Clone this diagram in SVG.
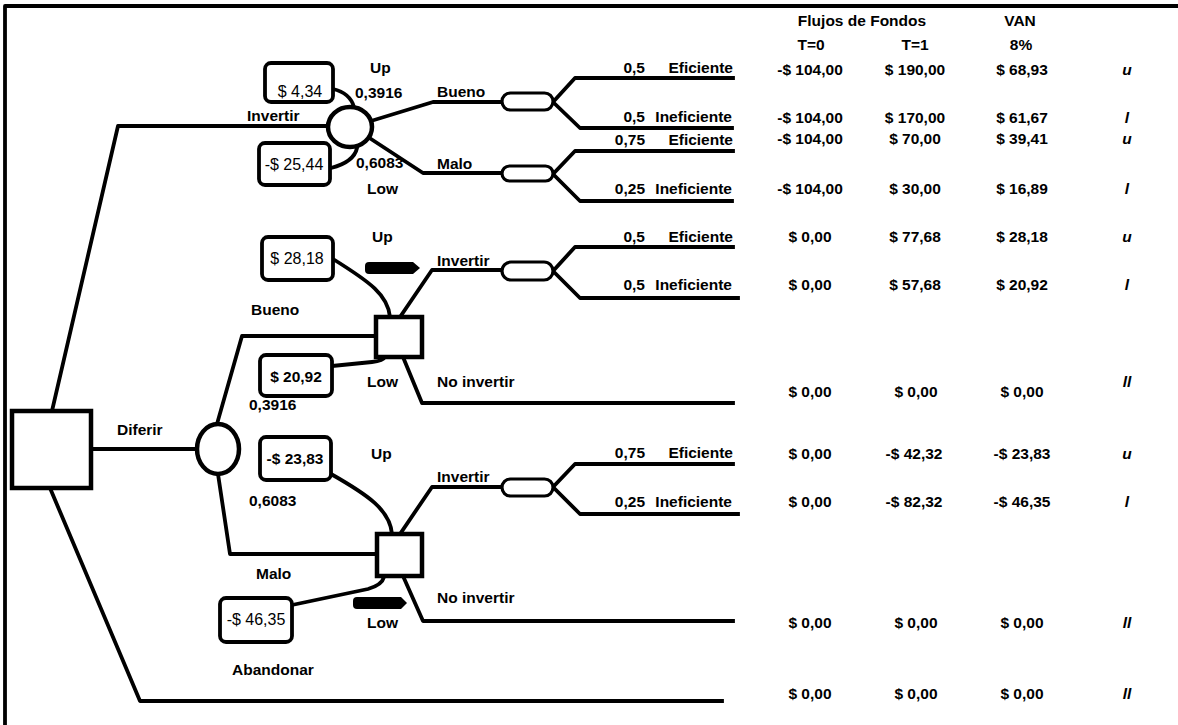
<svg xmlns="http://www.w3.org/2000/svg" width="1178" height="725" viewBox="0 0 1178 725">
<style>
.ln{fill:none;stroke:#000;stroke-width:3.8;stroke-linejoin:round;stroke-linecap:square}
.nd{fill:#fff;stroke:#000;stroke-width:4.5}
.bx{fill:#fff;stroke:#000;stroke-width:3.8}
.pl{fill:#fff;stroke:#000;stroke-width:3.2}
.ar{fill:#000;stroke:none}
text{font-family:"Liberation Sans",Arial,sans-serif;font-size:15.5px;fill:#000}
.b{font-weight:bold}
.n{font-weight:normal;font-size:16px}
.m{text-anchor:middle}
.e{text-anchor:end}
.i{font-style:italic;font-weight:bold;text-anchor:middle}
</style>
<rect width="1178" height="725" fill="#fff"/>
<g id="frame">
<path class="ln" d="M5 725 V6 H1178" stroke-linecap="butt"/>
</g>
<g id="connectors">
<path class="ln" d="M52 411 L118 126 H329"/>
<path class="ln" d="M91 449 H197"/>
<path class="ln" d="M50 488 L140 701 H722"/>
<path class="ln" d="M371 121 L433 102 H502"/>
<path class="ln" d="M368 137 L423 173 H502"/>
<path class="ln" d="M553 102 L575 78 H733"/>
<path class="ln" d="M553 102 L580 128 H732"/>
<path class="ln" d="M553 174 L575 151 H733"/>
<path class="ln" d="M553 174 L580 201 H732"/>
<path class="ln" d="M217 424 L242 336 H375"/>
<path class="ln" d="M218 474 L230 554 H377"/>
<path class="ln" d="M400 317 L432 270 H502"/>
<path class="ln" d="M553 271 L575 247 H733"/>
<path class="ln" d="M553 271 L580 298 H738"/>
<path class="ln" d="M403 357 L422 403 H733"/>
<path class="ln" d="M400 534 L432 487 H502"/>
<path class="ln" d="M553 487 L575 464 H733"/>
<path class="ln" d="M553 487 L580 514 H738"/>
<path class="ln" d="M403 576 L423 621 H733"/>
<path class="ln" d="M333 89 Q350 93 354 107" stroke-linecap="butt"/>
<path class="ln" d="M331 168 Q354 162 357 148" stroke-linecap="butt"/>
<path class="ln" d="M333 259 C 370 282, 388 295, 390 317" stroke-linecap="butt"/>
<path class="ln" d="M332 366 L372 362 Q383 361 385 357" stroke-linecap="butt"/>
<path class="ln" d="M331 474 C 368 495, 390 510, 392 534" stroke-linecap="butt"/>
<path class="ln" d="M292 605 L368 589 Q382 585 384 577" stroke-linecap="butt"/>
<path class="ar" d="M369 262 H413 L420 268 L413 274 H369 Q365 274 365 270 V266 Q365 262 369 262 Z"/>
<path class="ar" d="M357 597 H401 L407 603 L401 609 H357 Q353 609 353 605 V601 Q353 597 357 597 Z"/>
</g>
<g id="decision-root"><rect class="nd" x="12" y="411" width="79" height="77"/></g>
<g id="chance-invertir"><ellipse class="nd" cx="350" cy="127" rx="22" ry="20"/></g>
<g id="chance-diferir"><ellipse class="nd" cx="218" cy="449" rx="21" ry="25"/></g>
<g id="decision-bueno"><rect class="nd" x="376" y="317" width="46" height="40"/></g>
<g id="decision-malo"><rect class="nd" x="377" y="534" width="45" height="42"/></g>
<g id="pill-1"><rect class="pl" x="502" y="93" width="51" height="17" rx="8.5"/></g>
<g id="pill-2"><rect class="pl" x="502" y="166" width="51" height="15" rx="7.5"/></g>
<g id="pill-3"><rect class="pl" x="502" y="262" width="51" height="18" rx="9"/></g>
<g id="pill-4"><rect class="pl" x="502" y="479" width="51" height="17" rx="8.5"/></g>
<g id="val-434"><rect class="bx" x="265" y="63" width="68" height="39" rx="6"/><text class="n m" x="300" y="97">$ 4,34</text></g>
<g id="val-2544"><rect class="bx" x="259" y="143" width="71" height="42" rx="6"/><text class="n m" x="294" y="170">-$ 25,44</text></g>
<g id="val-2818"><rect class="bx" x="262" y="237" width="71" height="43" rx="6"/><text class="n m" x="297" y="264">$ 28,18</text></g>
<g id="val-2092"><rect class="bx" x="260" y="355" width="72" height="41" rx="6"/><text class="b m" x="296" y="382">$ 20,92</text></g>
<g id="val-2383"><rect class="bx" x="260" y="437" width="71" height="43" rx="6"/><text class="b m" x="295" y="464">-$ 23,83</text></g>
<g id="val-4635"><rect class="bx" x="220" y="598" width="72" height="44" rx="6"/><text class="n m" x="256" y="625">-$ 46,35</text></g>
<g id="labels">
<text class="b" x="247" y="121">Invertir</text>
<text class="b" x="370" y="73">Up</text>
<text class="b" x="355" y="98">0,3916</text>
<text class="b" x="356" y="168">0,6083</text>
<text class="b" x="367" y="194">Low</text>
<text class="b" x="437" y="97">Bueno</text>
<text class="b" x="437" y="169">Malo</text>
<text class="b e" x="645" y="73">0,5</text><text class="b e" x="733" y="73">Eficiente</text>
<text class="b e" x="645" y="122">0,5</text><text class="b e" x="732" y="122">Ineficiente</text>
<text class="b e" x="645" y="145">0,75</text><text class="b e" x="733" y="145">Eficiente</text>
<text class="b e" x="645" y="194">0,25</text><text class="b e" x="732" y="194">Ineficiente</text>
<text class="b" x="372" y="242">Up</text>
<text class="b" x="251" y="315">Bueno</text>
<text class="b" x="437" y="266">Invertir</text>
<text class="b e" x="645" y="242">0,5</text><text class="b e" x="733" y="242">Eficiente</text>
<text class="b e" x="645" y="290">0,5</text><text class="b e" x="732" y="290">Ineficiente</text>
<text class="b" x="367" y="387">Low</text>
<text class="b" x="437" y="387">No invertir</text>
<text class="b" x="249" y="410">0,3916</text>
<text class="b" x="117" y="435">Diferir</text>
<text class="b" x="371" y="459">Up</text>
<text class="b" x="249" y="506">0,6083</text>
<text class="b" x="437" y="482">Invertir</text>
<text class="b e" x="645" y="458">0,75</text><text class="b e" x="733" y="458">Eficiente</text>
<text class="b e" x="645" y="507">0,25</text><text class="b e" x="732" y="507">Ineficiente</text>
<text class="b" x="256" y="579">Malo</text>
<text class="b" x="437" y="603">No invertir</text>
<text class="b" x="367" y="628">Low</text>
<text class="b" x="232" y="675">Abandonar</text>
</g>
<g id="table">
<text class="b m" x="862" y="26">Flujos de Fondos</text>
<text class="b m" x="1020" y="26">VAN</text>
<text class="b m" x="811" y="50">T=0</text>
<text class="b m" x="915" y="50">T=1</text>
<text class="b m" x="1021" y="50">8%</text>
<text class="b m" x="810" y="75">-$ 104,00</text><text class="b m" x="915" y="75">$ 190,00</text><text class="b m" x="1022" y="75">$ 68,93</text><text class="i" x="1127" y="75">u</text>
<text class="b m" x="810" y="123">-$ 104,00</text><text class="b m" x="915" y="123">$ 170,00</text><text class="b m" x="1022" y="123">$ 61,67</text><text class="i" x="1127" y="123">l</text>
<text class="b m" x="810" y="144">-$ 104,00</text><text class="b m" x="915" y="144">$ 70,00</text><text class="b m" x="1022" y="144">$ 39,41</text><text class="i" x="1127" y="144">u</text>
<text class="b m" x="810" y="194">-$ 104,00</text><text class="b m" x="915" y="194">$ 30,00</text><text class="b m" x="1022" y="194">$ 16,89</text><text class="i" x="1127" y="194">l</text>
<text class="b m" x="810" y="242">$ 0,00</text><text class="b m" x="915" y="242">$ 77,68</text><text class="b m" x="1022" y="242">$ 28,18</text><text class="i" x="1127" y="242">u</text>
<text class="b m" x="810" y="290">$ 0,00</text><text class="b m" x="915" y="290">$ 57,68</text><text class="b m" x="1022" y="290">$ 20,92</text><text class="i" x="1127" y="290">l</text>
<text class="b m" x="810" y="397">$ 0,00</text><text class="b m" x="916" y="397">$ 0,00</text><text class="b m" x="1022" y="397">$ 0,00</text><text class="i" x="1127" y="387">ll</text>
<text class="b m" x="810" y="459">$ 0,00</text><text class="b m" x="914" y="459">-$ 42,32</text><text class="b m" x="1022" y="459">-$ 23,83</text><text class="i" x="1127" y="459">u</text>
<text class="b m" x="810" y="507">$ 0,00</text><text class="b m" x="914" y="507">-$ 82,32</text><text class="b m" x="1022" y="507">-$ 46,35</text><text class="i" x="1127" y="507">l</text>
<text class="b m" x="810" y="628">$ 0,00</text><text class="b m" x="916" y="628">$ 0,00</text><text class="b m" x="1022" y="628">$ 0,00</text><text class="i" x="1127" y="628">ll</text>
<text class="b m" x="810" y="699">$ 0,00</text><text class="b m" x="916" y="699">$ 0,00</text><text class="b m" x="1022" y="699">$ 0,00</text><text class="i" x="1127" y="699">ll</text>
</g>
</svg>
